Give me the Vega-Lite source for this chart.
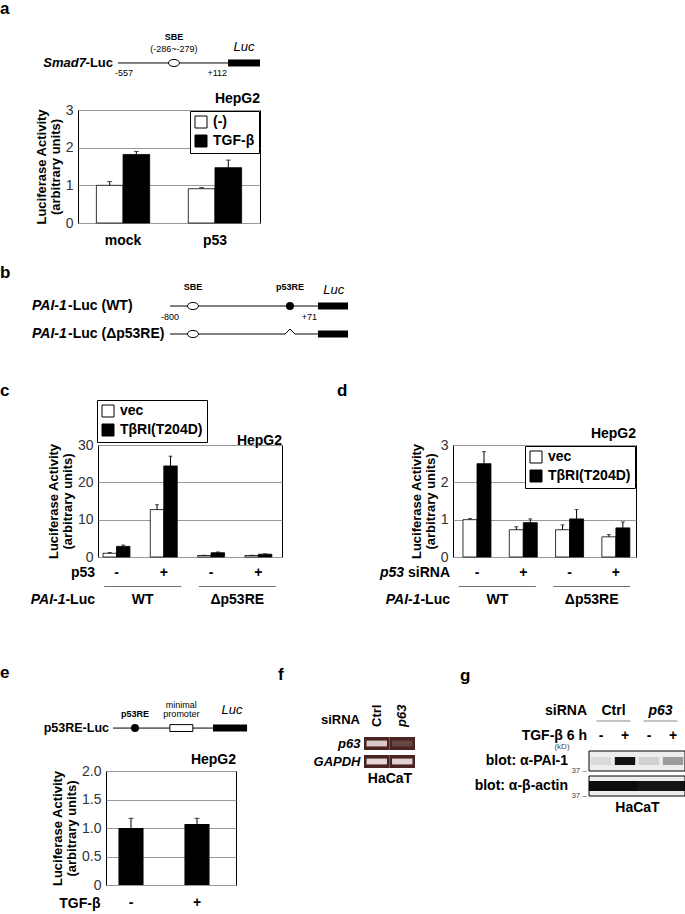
{
"$schema":"https://vega.github.io/schema/vega-lite/v6.json",
"padding":0,
"background":"white",
"spacing":0,
"config":{"font":"Liberation Sans","view":{"stroke":null},"concat":{"spacing":0},"title":{"color":"black"}},
"resolve":{"scale":{"x":"independent","y":"independent","fill":"independent","xOffset":"independent","opacity":"independent"},"legend":{"fill":"independent"}},
"vconcat":[
{
"width":330,"height":91,
"title":{"text":"a","anchor":"start","frame":"group","offset":-31,"baseline":"alphabetic","fontSize":17,"fontWeight":"bold"},
"encoding":{
 "x":{"field":"pos","type":"quantitative","scale":{"domain":[-83.1,149.3],"nice":false,"zero":false},"axis":null},
 "y":{"field":"construct","type":"nominal","scale":{"type":"point","domain":["Smad7-Luc"],"align":0.692},"axis":null}
},
"layer":[
 {"data":{"values":[{"construct":"Smad7-Luc","pos":0,"pos2":77.5}]},"mark":{"type":"rule","color":"black","strokeWidth":1},"encoding":{"x2":{"field":"pos2"}}},
 {"data":{"values":[{"construct":"Smad7-Luc","pos":77.5,"pos2":100}]},"mark":{"type":"rule","color":"black","strokeWidth":7,"strokeCap":"butt"},"encoding":{"x2":{"field":"pos2"}}},
 {"data":{"values":[{"construct":"Smad7-Luc","pos":39.4}]},"mark":{"type":"point","shape":"M-1,0A1,0.65,0,1,1,1,0A1,0.65,0,1,1,-1,0Z","size":121,"filled":true,"fill":"white","stroke":"black","strokeWidth":1,"opacity":1}},
 {"data":{"values":[{"construct":"Smad7-Luc","pos":39.4,"label":"SBE"}]},"mark":{"type":"text","fontSize":9,"fontWeight":"bold","dy":-26},"encoding":{"text":{"field":"label"}}},
 {"data":{"values":[{"construct":"Smad7-Luc","pos":39.4,"label":"(-286~-279)"}]},"mark":{"type":"text","fontSize":9,"dy":-14},"encoding":{"text":{"field":"label"}}},
 {"data":{"values":[{"construct":"Smad7-Luc","pos":88.7,"label":"Luc"}]},"mark":{"type":"text","fontSize":13,"fontStyle":"italic","dy":-16},"encoding":{"text":{"field":"label"}}},
 {"data":{"values":[{"construct":"Smad7-Luc","pos":0,"label":"-557"}]},"mark":{"type":"text","fontSize":9,"align":"left","dx":-3,"dy":10},"encoding":{"text":{"field":"label"}}},
 {"data":{"values":[{"construct":"Smad7-Luc","pos":77.5,"label":"+112"}]},"mark":{"type":"text","fontSize":9,"align":"right","dx":-1,"dy":10},"encoding":{"text":{"field":"label"}}},
 {"data":{"values":[{"construct":"Smad7-Luc","pos":0,"label":"Smad7"}]},"mark":{"type":"text","fontSize":13,"fontWeight":"bold","fontStyle":"italic","align":"right","dx":-32},"encoding":{"text":{"field":"label"}}},
 {"data":{"values":[{"construct":"Smad7-Luc","pos":0,"label":"-Luc"}]},"mark":{"type":"text","fontSize":13,"fontWeight":"bold","align":"right","dx":-5},"encoding":{"text":{"field":"label"}}}
]
},
{
"hconcat":[
 {"width":78,"height":113,"data":{"values":[]},"mark":"point"},
 {
 "width":182,"height":113,
 "view":{"stroke":"black","strokeWidth":1},
 "title":{"text":"HepG2","anchor":"end","frame":"group","fontSize":14,"fontWeight":"bold","offset":-3},
 "data":{"values":[
  {"group":"mock","treat":"(-)","value":1.0,"upper":1.1},
  {"group":"mock","treat":"TGF-β","value":1.82,"upper":1.9},
  {"group":"p53","treat":"(-)","value":0.91,"upper":0.94},
  {"group":"p53","treat":"TGF-β","value":1.47,"upper":1.67}]},
 "encoding":{
  "x":{"field":"group","type":"nominal","scale":{"type":"band","domain":["mock","p53"],"paddingInner":0.42,"paddingOuter":0.2},"axis":{"title":null,"labelAngle":0,"labelFontSize":14,"labelFontWeight":"bold","labelColor":"black","ticks":false,"domain":false,"labelPadding":10}},
  "xOffset":{"field":"treat","type":"nominal","scale":{"type":"band","domain":["(-)","TGF-β"],"paddingInner":0,"paddingOuter":0}},
  "y":{"field":"value","type":"quantitative","scale":{"domain":[0,3],"nice":false},"axis":{"values":[0,1,2,3],"grid":true,"gridColor":"#999999","gridWidth":1,"ticks":false,"domain":false,"labelFontSize":14,"labelColor":"#333333","labelPadding":5,"title":["Luciferase Activity","(arbitrary units)"],"titleFontSize":13,"titleFontWeight":"bold","titleColor":"black","titlePadding":3,"titleLineHeight":14}}
 },
 "layer":[
  {"mark":{"type":"bar","stroke":"black","strokeWidth":0.8},"encoding":{"fill":{"field":"treat","type":"nominal","scale":{"domain":["(-)","TGF-β"],"range":["white","black"]},"legend":{"title":null,"orient":"top-right","offset":1,"symbolType":"square","symbolSize":144,"symbolStrokeColor":"black","symbolStrokeWidth":1,"labelFontSize":14,"labelFontWeight":"bold","labelColor":"black","strokeColor":"black","fillColor":"white","padding":4,"rowPadding":3,"labelOffset":5}}}},
  {"mark":{"type":"rule","color":"black","strokeWidth":1},"encoding":{"y2":{"field":"upper"}}},
  {"mark":{"type":"tick","orient":"horizontal","size":5,"thickness":1,"color":"black"},"encoding":{"y":{"field":"upper","type":"quantitative"}}}
 ]
 }
],
"spacing":0,"bounds":"flush",
"resolve":{"scale":{"x":"independent","y":"independent","fill":"independent","xOffset":"independent"},"legend":{"fill":"independent"}}
},
{
"width":685,"height":134,
"title":{"text":"b","anchor":"start","frame":"group","offset":-47,"baseline":"alphabetic","fontSize":17,"fontWeight":"bold"},
"encoding":{
 "x":{"field":"pos","type":"quantitative","scale":{"domain":[-95.5,289.3],"nice":false,"zero":false},"axis":null},
 "y":{"field":"construct","type":"nominal","scale":{"type":"point","domain":["WT","Δp53RE"],"range":[58,86],"padding":0},"axis":null}
},
"layer":[
 {"data":{"values":[{"construct":"WT","pos":0,"pos2":83.1},{"construct":"Δp53RE","pos":0,"pos2":64.6},{"construct":"Δp53RE","pos":70.2,"pos2":83.1}]},"mark":{"type":"rule","color":"black","strokeWidth":1},"encoding":{"x2":{"field":"pos2"}}},
 {"data":{"values":[{"construct":"WT","pos":83.1,"pos2":100},{"construct":"Δp53RE","pos":83.1,"pos2":100}]},"mark":{"type":"rule","color":"black","strokeWidth":7,"strokeCap":"butt"},"encoding":{"x2":{"field":"pos2"}}},
 {"data":{"values":[{"construct":"WT","pos":12.9},{"construct":"Δp53RE","pos":12.9}]},"mark":{"type":"point","shape":"M-1,0A1,0.65,0,1,1,1,0A1,0.65,0,1,1,-1,0Z","size":121,"filled":true,"fill":"white","stroke":"black","strokeWidth":1,"opacity":1}},
 {"data":{"values":[{"construct":"WT","pos":67.4}]},"mark":{"type":"point","shape":"circle","size":64,"filled":true,"color":"black","opacity":1}},
 {"data":{"values":[{"construct":"Δp53RE","pos":67.4}]},"mark":{"type":"point","shape":"M-1,0L0,-1L1,0","size":100,"filled":false,"color":"black","strokeWidth":1,"opacity":1}},
 {"data":{"values":[{"construct":"WT","pos":12.9,"label":"SBE"},{"construct":"WT","pos":67.4,"label":"p53RE"}]},"mark":{"type":"text","fontSize":9,"fontWeight":"bold","dy":-19},"encoding":{"text":{"field":"label"}}},
 {"data":{"values":[{"construct":"WT","pos":92,"label":"Luc"}]},"mark":{"type":"text","fontSize":13,"fontStyle":"italic","dy":-16},"encoding":{"text":{"field":"label"}}},
 {"data":{"values":[{"construct":"WT","pos":0,"label":"-800"}]},"mark":{"type":"text","fontSize":9,"dy":11},"encoding":{"text":{"field":"label"}}},
 {"data":{"values":[{"construct":"WT","pos":83.1,"label":"+71"}]},"mark":{"type":"text","fontSize":9,"align":"right","dx":-1,"dy":11},"encoding":{"text":{"field":"label"}}},
 {"data":{"values":[{"construct":"WT","pos":-77.5,"label":"PAI-1"},{"construct":"Δp53RE","pos":-77.5,"label":"PAI-1"}]},"mark":{"type":"text","fontSize":14,"fontWeight":"bold","fontStyle":"italic","align":"left"},"encoding":{"text":{"field":"label"}}},
 {"data":{"values":[{"construct":"WT","pos":-77.5,"label":"-Luc (WT)"},{"construct":"Δp53RE","pos":-77.5,"label":"-Luc (Δp53RE)"}]},"mark":{"type":"text","fontSize":14,"fontWeight":"bold","align":"left","dx":36},"encoding":{"text":{"field":"label"}}}
]
},
{
"hconcat":[
 {"width":98,"height":112,"title":{"text":"c","anchor":"start","frame":"group","offset":32,"baseline":"alphabetic","fontSize":17,"fontWeight":"bold"},"data":{"values":[]},"mark":"point"},
 {
 "width":184,"height":112,
 "view":{"stroke":"black","strokeWidth":1},
 "title":{"text":"HepG2","anchor":"end","frame":"group","fontSize":14,"fontWeight":"bold","offset":-48.5},
 "data":{"values":[
  {"cond":"WT-","series":"vec","value":1.0,"upper":1.2},
  {"cond":"WT-","series":"TβRI(T204D)","value":2.85,"upper":3.2},
  {"cond":"WT+","series":"vec","value":12.7,"upper":14.0},
  {"cond":"WT+","series":"TβRI(T204D)","value":24.4,"upper":27.0},
  {"cond":"D-","series":"vec","value":0.4,"upper":0.45},
  {"cond":"D-","series":"TβRI(T204D)","value":1.15,"upper":1.35},
  {"cond":"D+","series":"vec","value":0.4,"upper":0.45},
  {"cond":"D+","series":"TβRI(T204D)","value":0.75,"upper":0.85}]},
 "encoding":{
  "x":{"field":"cond","type":"nominal","scale":{"type":"band","domain":["WT-","WT+","D-","D+"],"paddingInner":0.43,"paddingOuter":0.16,"align":0.33},"axis":null},
  "xOffset":{"field":"series","type":"nominal","scale":{"type":"band","domain":["vec","TβRI(T204D)"],"paddingInner":0,"paddingOuter":0}},
  "y":{"field":"value","type":"quantitative","scale":{"domain":[0,30],"nice":false},"axis":{"values":[0,10,20,30],"grid":true,"gridColor":"#999999","gridWidth":1,"ticks":false,"domain":false,"labelFontSize":14,"labelColor":"#333333","labelPadding":5,"title":["Luciferase Activity","(arbitrary units)"],"titleFontSize":13,"titleFontWeight":"bold","titleColor":"black","titlePadding":3,"titleLineHeight":14}}
 },
 "layer":[
  {"mark":{"type":"bar","stroke":"black","strokeWidth":0.8},"encoding":{"fill":{"field":"series","type":"nominal","scale":{"domain":["vec","TβRI(T204D)"],"range":["white","black"]},"legend":{"title":null,"orient":"none","legendX":-1,"legendY":-45,"symbolType":"square","symbolSize":144,"symbolStrokeColor":"black","symbolStrokeWidth":1,"labelFontSize":14,"labelFontWeight":"bold","labelColor":"black","strokeColor":"black","fillColor":"white","padding":4,"rowPadding":3,"labelOffset":5}}}},
  {"mark":{"type":"rule","color":"black","strokeWidth":1},"encoding":{"y2":{"field":"upper"}}},
  {"mark":{"type":"tick","orient":"horizontal","size":4,"thickness":1,"color":"black"},"encoding":{"y":{"field":"upper","type":"quantitative"}}}
 ]
 },
 {"width":171,"height":112,"title":{"text":"d","anchor":"start","frame":"group","offset":32,"dx":55,"baseline":"alphabetic","fontSize":17,"fontWeight":"bold"},"data":{"values":[]},"mark":"point"},
 {
 "width":183,"height":112,
 "view":{"stroke":"black","strokeWidth":1},
 "title":{"text":"HepG2","anchor":"end","frame":"group","fontSize":14,"fontWeight":"bold","offset":-3},
 "data":{"values":[
  {"cond":"WT-","series":"vec","value":1.0,"upper":1.03},
  {"cond":"WT-","series":"TβRI(T204D)","value":2.5,"upper":2.82},
  {"cond":"WT+","series":"vec","value":0.73,"upper":0.81},
  {"cond":"WT+","series":"TβRI(T204D)","value":0.92,"upper":1.02},
  {"cond":"D-","series":"vec","value":0.73,"upper":0.86},
  {"cond":"D-","series":"TβRI(T204D)","value":1.02,"upper":1.27},
  {"cond":"D+","series":"vec","value":0.54,"upper":0.6},
  {"cond":"D+","series":"TβRI(T204D)","value":0.78,"upper":0.94}]},
 "encoding":{
  "x":{"field":"cond","type":"nominal","scale":{"type":"band","domain":["WT-","WT+","D-","D+"],"paddingInner":0.395,"paddingOuter":0.174,"align":0.62},"axis":null},
  "xOffset":{"field":"series","type":"nominal","scale":{"type":"band","domain":["vec","TβRI(T204D)"],"paddingInner":0,"paddingOuter":0}},
  "y":{"field":"value","type":"quantitative","scale":{"domain":[0,3],"nice":false},"axis":{"values":[0,1,2,3],"grid":true,"gridColor":"#999999","gridWidth":1,"ticks":false,"domain":false,"labelFontSize":14,"labelColor":"#333333","labelPadding":5,"title":["Luciferase Activity","(arbitrary units)"],"titleFontSize":13,"titleFontWeight":"bold","titleColor":"black","titlePadding":3,"titleLineHeight":14}}
 },
 "layer":[
  {"mark":{"type":"bar","stroke":"black","strokeWidth":0.8},"encoding":{"fill":{"field":"series","type":"nominal","scale":{"domain":["vec","TβRI(T204D)"],"range":["white","black"]},"legend":{"title":null,"orient":"top-right","offset":1,"symbolType":"square","symbolSize":144,"symbolStrokeColor":"black","symbolStrokeWidth":1,"labelFontSize":14,"labelFontWeight":"bold","labelColor":"black","strokeColor":"black","fillColor":"white","padding":4,"rowPadding":3,"labelOffset":5}}}},
  {"mark":{"type":"rule","color":"black","strokeWidth":1},"encoding":{"y2":{"field":"upper"}}},
  {"mark":{"type":"tick","orient":"horizontal","size":4,"thickness":1,"color":"black"},"encoding":{"y":{"field":"upper","type":"quantitative"}}}
 ]
 }
],
"spacing":0,"bounds":"flush",
"resolve":{"scale":{"x":"independent","y":"independent","fill":"independent","xOffset":"independent"},"legend":{"fill":"independent"}}
},
{
"hconcat":[
 {"width":98,"height":51,"data":{"values":[]},"mark":"point"},
 {
 "width":184,"height":51,
 "encoding":{"y":{"field":"row","type":"nominal","scale":{"type":"point","domain":["sign","line","block"],"range":[8,35],"padding":0},"axis":null}},
 "resolve":{"scale":{"x":"independent"}},
 "layer":[
  {"data":{"values":[{"cond":"WT-","row":"sign","label":"-"},{"cond":"WT+","row":"sign","label":"+"},{"cond":"D-","row":"sign","label":"-"},{"cond":"D+","row":"sign","label":"+"}]},"mark":{"type":"text","fontSize":14,"fontWeight":"bold"},"encoding":{"x":{"field":"cond","type":"nominal","scale":{"type":"band","domain":["WT-","WT+","D-","D+"],"paddingInner":0.43,"paddingOuter":0.16,"align":0.33},"axis":null},"text":{"field":"label"}}},
  {"data":{"values":[{"block":"WT","row":"block","label":"WT"},{"block":"Δp53RE","row":"block","label":"Δp53RE"}]},"mark":{"type":"text","fontSize":14,"fontWeight":"bold"},"encoding":{"x":{"field":"block","type":"nominal","scale":{"type":"band","domain":["WT","Δp53RE"],"paddingInner":0.18,"paddingOuter":0.063},"axis":null},"text":{"field":"label"}}},
  {"data":{"values":[{"block":"WT","row":"line"},{"block":"Δp53RE","row":"line"}]},"mark":{"type":"tick","orient":"horizontal","size":77,"thickness":1,"color":"#333333"},"encoding":{"x":{"field":"block","type":"nominal","scale":{"type":"band","domain":["WT","Δp53RE"],"paddingInner":0.18,"paddingOuter":0.063},"axis":null}}},
  {"data":{"values":[{"frame":"all","row":"sign","label":"p53"}]},"mark":{"type":"text","fontSize":14,"fontWeight":"bold","align":"right","dx":-3},"encoding":{"x":{"field":"frame","type":"nominal","bandPosition":0,"scale":{"type":"band","domain":["all"],"paddingInner":0,"paddingOuter":0},"axis":null},"text":{"field":"label"}}},
  {"data":{"values":[{"frame":"all","row":"block","label":"PAI-1"}]},"mark":{"type":"text","fontSize":14,"fontWeight":"bold","fontStyle":"italic","align":"right","dx":-32.5},"encoding":{"x":{"field":"frame","type":"nominal","bandPosition":0,"scale":{"type":"band","domain":["all"],"paddingInner":0,"paddingOuter":0},"axis":null},"text":{"field":"label"}}},
  {"data":{"values":[{"frame":"all","row":"block","label":"-Luc"}]},"mark":{"type":"text","fontSize":14,"fontWeight":"bold","align":"right","dx":-3},"encoding":{"x":{"field":"frame","type":"nominal","bandPosition":0,"scale":{"type":"band","domain":["all"],"paddingInner":0,"paddingOuter":0},"axis":null},"text":{"field":"label"}}}
 ]
 },
 {"width":171,"height":51,"data":{"values":[]},"mark":"point"},
 {
 "width":183,"height":51,
 "encoding":{"y":{"field":"row","type":"nominal","scale":{"type":"point","domain":["sign","line","block"],"range":[8,35],"padding":0},"axis":null}},
 "resolve":{"scale":{"x":"independent"}},
 "layer":[
  {"data":{"values":[{"cond":"WT-","row":"sign","label":"-"},{"cond":"WT+","row":"sign","label":"+"},{"cond":"D-","row":"sign","label":"-"},{"cond":"D+","row":"sign","label":"+"}]},"mark":{"type":"text","fontSize":14,"fontWeight":"bold"},"encoding":{"x":{"field":"cond","type":"nominal","scale":{"type":"band","domain":["WT-","WT+","D-","D+"],"paddingInner":0.395,"paddingOuter":0.174,"align":0.62},"axis":null},"text":{"field":"label"}}},
  {"data":{"values":[{"block":"WT","row":"block","label":"WT"},{"block":"Δp53RE","row":"block","label":"Δp53RE"}]},"mark":{"type":"text","fontSize":14,"fontWeight":"bold"},"encoding":{"x":{"field":"block","type":"nominal","scale":{"type":"band","domain":["WT","Δp53RE"],"paddingInner":0.18,"paddingOuter":0.06},"axis":null},"text":{"field":"label"}}},
  {"data":{"values":[{"block":"WT","row":"line"},{"block":"Δp53RE","row":"line"}]},"mark":{"type":"tick","orient":"horizontal","size":77,"thickness":1,"color":"#333333"},"encoding":{"x":{"field":"block","type":"nominal","scale":{"type":"band","domain":["WT","Δp53RE"],"paddingInner":0.18,"paddingOuter":0.06},"axis":null}}},
  {"data":{"values":[{"frame":"all","row":"sign","label":"p53"}]},"mark":{"type":"text","fontSize":14,"fontWeight":"bold","fontStyle":"italic","align":"right","dx":-49},"encoding":{"x":{"field":"frame","type":"nominal","bandPosition":0,"scale":{"type":"band","domain":["all"],"paddingInner":0,"paddingOuter":0},"axis":null},"text":{"field":"label"}}},
  {"data":{"values":[{"frame":"all","row":"sign","label":"siRNA"}]},"mark":{"type":"text","fontSize":14,"fontWeight":"bold","align":"right","dx":-3},"encoding":{"x":{"field":"frame","type":"nominal","bandPosition":0,"scale":{"type":"band","domain":["all"],"paddingInner":0,"paddingOuter":0},"axis":null},"text":{"field":"label"}}},
  {"data":{"values":[{"frame":"all","row":"block","label":"PAI-1"}]},"mark":{"type":"text","fontSize":14,"fontWeight":"bold","fontStyle":"italic","align":"right","dx":-32.5},"encoding":{"x":{"field":"frame","type":"nominal","bandPosition":0,"scale":{"type":"band","domain":["all"],"paddingInner":0,"paddingOuter":0},"axis":null},"text":{"field":"label"}}},
  {"data":{"values":[{"frame":"all","row":"block","label":"-Luc"}]},"mark":{"type":"text","fontSize":14,"fontWeight":"bold","align":"right","dx":-3},"encoding":{"x":{"field":"frame","type":"nominal","bandPosition":0,"scale":{"type":"band","domain":["all"],"paddingInner":0,"paddingOuter":0},"axis":null},"text":{"field":"label"}}}
 ]
 }
],
"spacing":0,"bounds":"flush",
"resolve":{"scale":{"x":"independent","y":"independent"}}
},
{
"hconcat":[
 {
 "vconcat":[
  {
  "width":250,"height":136,
  "title":{"text":"e","anchor":"start","frame":"group","offset":-79,"baseline":"alphabetic","fontSize":17,"fontWeight":"bold"},
  "encoding":{
   "x":{"field":"pos","type":"quantitative","scale":{"domain":[-84.3,102.2],"nice":false,"zero":false},"axis":null},
   "y":{"field":"construct","type":"nominal","scale":{"type":"point","domain":["p53RE-Luc"],"align":0.824},"axis":null}
  },
  "layer":[
   {"data":{"values":[{"construct":"p53RE-Luc","pos":0,"pos2":74.6}]},"mark":{"type":"rule","color":"black","strokeWidth":1},"encoding":{"x2":{"field":"pos2"}}},
   {"data":{"values":[{"construct":"p53RE-Luc","pos":74.6,"pos2":100}]},"mark":{"type":"rule","color":"black","strokeWidth":7,"strokeCap":"butt"},"encoding":{"x2":{"field":"pos2"}}},
   {"data":{"values":[{"construct":"p53RE-Luc","pos":16.4}]},"mark":{"type":"point","shape":"circle","size":64,"filled":true,"color":"black","opacity":1}},
   {"data":{"values":[{"construct":"p53RE-Luc","pos":51}]},"mark":{"type":"point","shape":"M-1,-0.3L1,-0.3L1,0.3L-1,0.3Z","size":529,"filled":true,"fill":"white","stroke":"black","strokeWidth":1,"opacity":1}},
   {"data":{"values":[{"construct":"p53RE-Luc","pos":16.4,"label":"p53RE"}]},"mark":{"type":"text","fontSize":9,"fontWeight":"bold","dy":-14},"encoding":{"text":{"field":"label"}}},
   {"data":{"values":[{"construct":"p53RE-Luc","pos":51,"label":"minimal"}]},"mark":{"type":"text","fontSize":9,"dy":-23},"encoding":{"text":{"field":"label"}}},
   {"data":{"values":[{"construct":"p53RE-Luc","pos":51,"label":"promoter"}]},"mark":{"type":"text","fontSize":9,"dy":-14},"encoding":{"text":{"field":"label"}}},
   {"data":{"values":[{"construct":"p53RE-Luc","pos":88.8,"label":"Luc"}]},"mark":{"type":"text","fontSize":13,"fontStyle":"italic","dy":-18},"encoding":{"text":{"field":"label"}}},
   {"data":{"values":[{"construct":"p53RE-Luc","pos":0,"label":"p53RE-Luc"}]},"mark":{"type":"text","fontSize":12.5,"fontWeight":"bold","align":"right","dx":-4},"encoding":{"text":{"field":"label"}}}
  ]
  },
  {
  "hconcat":[
   {"width":106,"height":114,"data":{"values":[]},"mark":"point"},
   {
   "width":130,"height":114,
   "view":{"stroke":"black","strokeWidth":1},
   "title":{"text":"HepG2","anchor":"end","frame":"group","fontSize":14,"fontWeight":"bold","offset":-3},
   "data":{"values":[{"tgf":"-","value":1.0,"upper":1.17},{"tgf":"+","value":1.07,"upper":1.17}]},
   "encoding":{
    "x":{"field":"tgf","type":"nominal","scale":{"type":"band","domain":["-","+"],"paddingInner":0.62,"paddingOuter":0.295,"align":0.32},"axis":null},
    "y":{"field":"value","type":"quantitative","scale":{"domain":[0,2],"nice":false},"axis":{"values":[0,0.5,1,1.5,2],"labelExpr":"datum.value == 0 ? '0' : format(datum.value, '.1f')","grid":true,"gridColor":"#999999","gridWidth":1,"ticks":false,"domain":false,"labelFontSize":14,"labelColor":"#333333","labelPadding":5,"title":["Luciferase Activity","(arbitrary units)"],"titleFontSize":13,"titleFontWeight":"bold","titleColor":"black","titlePadding":3,"titleLineHeight":14}}
   },
   "layer":[
    {"mark":{"type":"bar","color":"black"}},
    {"mark":{"type":"rule","color":"black","strokeWidth":1},"encoding":{"y2":{"field":"upper"}}},
    {"mark":{"type":"tick","orient":"horizontal","size":5,"thickness":1,"color":"black"},"encoding":{"y":{"field":"upper","type":"quantitative"}}}
   ]
   }
  ],
  "spacing":0,"bounds":"flush",
  "resolve":{"scale":{"x":"independent","y":"independent"}}
  },
  {
  "hconcat":[
   {"width":106,"height":20,"data":{"values":[]},"mark":"point"},
   {
   "width":130,"height":20,
   "data":{"values":[{"tgf":"-","row":"TGF-β","label":"-"},{"tgf":"+","row":"TGF-β","label":"+"}]},
   "mark":{"type":"text","fontSize":14,"fontWeight":"bold"},
   "encoding":{
    "x":{"field":"tgf","type":"nominal","scale":{"type":"band","domain":["-","+"],"paddingInner":0.62,"paddingOuter":0.295,"align":0.32},"axis":null},
    "y":{"field":"row","type":"nominal","scale":{"type":"point","domain":["TGF-β"],"align":0.5},"axis":{"title":null,"ticks":false,"domain":false,"labelFontSize":14,"labelFontWeight":"bold","labelColor":"black","labelPadding":6}},
    "text":{"field":"label"}
   }
   }
  ],
  "spacing":0,"bounds":"flush",
  "resolve":{"scale":{"x":"independent","y":"independent"}}
  }
 ],
 "spacing":0,
 "resolve":{"scale":{"x":"independent","y":"independent"}}
 },
 {"width":27,"height":1,"data":{"values":[]},"mark":"point"},
 {
 "width":51,"height":152,
 "title":{"text":"f","anchor":"start","frame":"group","offset":-81,"dx":-86,"baseline":"alphabetic","fontSize":17,"fontWeight":"bold"},
 "encoding":{
  "x":{"field":"lane","type":"nominal","scale":{"type":"band","domain":["Ctrl","p63"],"paddingInner":0,"paddingOuter":0},"axis":{"orient":"bottom","title":"HaCaT","labels":false,"ticks":false,"domain":false,"titleFontSize":14,"titleFontWeight":"bold","titleColor":"black","titlePadding":3}},
  "y":{"field":"row","type":"nominal","scale":{"type":"band","domain":["siRNA","p63","GAPDH"],"range":[103,152],"paddingInner":0.278,"paddingOuter":0},"axis":{"title":null,"ticks":false,"domain":false,"labelFontSize":13,"labelFontWeight":"bold","labelColor":"black","labelPadding":4,"labelExpr":"datum.value === 'siRNA' ? '' : datum.label","labelFontStyle":"italic"}}
 },
 "layer":[
  {"data":{"values":[{"lane":"Ctrl","row":"p63"},{"lane":"p63","row":"p63"},{"lane":"Ctrl","row":"GAPDH"},{"lane":"p63","row":"GAPDH"}]},"mark":{"type":"rect","color":"#4a2422"}},
  {"data":{"values":[{"lane":"Ctrl","row":"p63","intensity":0.85},{"lane":"p63","row":"p63","intensity":0.18},{"lane":"Ctrl","row":"GAPDH","intensity":0.92},{"lane":"p63","row":"GAPDH","intensity":0.9}]},"mark":{"type":"rect","color":"#f3e6e6","width":{"band":0.8},"height":{"band":0.45}},"encoding":{"opacity":{"field":"intensity","type":"quantitative","scale":null,"legend":null}}},
  {"data":{"values":[{"lane":"Ctrl","row":"siRNA","label":"Ctrl"}]},"mark":{"type":"text","angle":270,"align":"left","baseline":"middle","dx":5,"fontSize":13,"fontWeight":"bold"},"encoding":{"y":{"field":"row","type":"nominal","bandPosition":1},"text":{"field":"label"}}},
  {"data":{"values":[{"lane":"p63","row":"siRNA","label":"p63"}]},"mark":{"type":"text","angle":270,"align":"left","baseline":"middle","dx":5,"fontSize":13,"fontWeight":"bold","fontStyle":"italic"},"encoding":{"y":{"field":"row","type":"nominal","bandPosition":1},"text":{"field":"label"}}},
  {"data":{"values":[{"lane":"Ctrl","row":"siRNA","label":"siRNA"}]},"mark":{"type":"text","align":"right","baseline":"middle","dx":-4,"fontSize":13,"fontWeight":"bold"},"encoding":{"x":{"field":"lane","type":"nominal","bandPosition":0},"y":{"field":"row","type":"nominal","bandPosition":0.1},"text":{"field":"label"}}}
 ]
 },
 {"width":45,"height":1,"data":{"values":[]},"mark":"point"},
 {
 "width":96,"height":180,
 "title":{"text":"g","anchor":"start","frame":"group","offset":-82,"dx":-129,"baseline":"alphabetic","fontSize":17,"fontWeight":"bold"},
 "encoding":{"y":{"field":"row","type":"nominal","scale":{"type":"band","domain":["siRNA","TGF","PAI-1","actin"],"range":[85,180],"paddingInner":0.2,"paddingOuter":0},"axis":null}},
 "resolve":{"scale":{"x":"independent"}},
 "layer":[
  {"data":{"values":[{"frame":"all","row":"PAI-1"},{"frame":"all","row":"actin"}]},"mark":{"type":"rect","fill":"#ededed","stroke":"black","strokeWidth":1},"encoding":{"x":{"field":"frame","type":"nominal","scale":{"type":"band","domain":["all"],"paddingInner":0,"paddingOuter":0},"axis":null}}},
  {"data":{"values":[
    {"lane":"Ctrl -","row":"PAI-1","intensity":0.08},{"lane":"Ctrl +","row":"PAI-1","intensity":0.92},{"lane":"p63 -","row":"PAI-1","intensity":0.12},{"lane":"p63 +","row":"PAI-1","intensity":0.35}]},
   "mark":{"type":"rect","color":"black","width":{"band":0.85},"height":{"band":0.4}},
   "encoding":{"x":{"field":"lane","type":"nominal","scale":{"type":"band","domain":["Ctrl -","Ctrl +","p63 -","p63 +"],"paddingInner":0,"paddingOuter":0},"axis":{"orient":"bottom","title":"HaCaT","labels":false,"ticks":false,"domain":false,"titleFontSize":14,"titleFontWeight":"bold","titleColor":"black","titlePadding":4}},"opacity":{"field":"intensity","type":"quantitative","scale":null,"legend":null}}},
  {"data":{"values":[
    {"lane":"Ctrl -","row":"actin","intensity":0.95},{"lane":"Ctrl +","row":"actin","intensity":0.95},{"lane":"p63 -","row":"actin","intensity":0.92},{"lane":"p63 +","row":"actin","intensity":0.92}]},
   "mark":{"type":"rect","color":"black","width":{"band":1},"height":{"band":0.5}},
   "encoding":{"x":{"field":"lane","type":"nominal","scale":{"type":"band","domain":["Ctrl -","Ctrl +","p63 -","p63 +"],"paddingInner":0,"paddingOuter":0},"axis":null},"opacity":{"field":"intensity","type":"quantitative","scale":null,"legend":null}}},
  {"data":{"values":[{"lane":"Ctrl -","row":"TGF","label":"-"},{"lane":"Ctrl +","row":"TGF","label":"+"},{"lane":"p63 -","row":"TGF","label":"-"},{"lane":"p63 +","row":"TGF","label":"+"}]},"mark":{"type":"text","fontSize":14,"fontWeight":"bold"},"encoding":{"x":{"field":"lane","type":"nominal","scale":{"type":"band","domain":["Ctrl -","Ctrl +","p63 -","p63 +"],"paddingInner":0,"paddingOuter":0},"axis":null},"text":{"field":"label"}}},
  {"data":{"values":[{"lane":"Ctrl -","row":"PAI-1","label":"37 –"},{"lane":"Ctrl -","row":"actin","label":"37 –"}]},"mark":{"type":"text","fontSize":8,"color":"#444444","align":"right","dx":-2},"encoding":{"x":{"field":"lane","type":"nominal","bandPosition":0,"scale":{"type":"band","domain":["Ctrl -","Ctrl +","p63 -","p63 +"],"paddingInner":0,"paddingOuter":0},"axis":null},"y":{"field":"row","type":"nominal","bandPosition":1},"text":{"field":"label"}}},
  {"data":{"values":[{"lane":"Ctrl -","row":"TGF","label":"(kD)"}]},"mark":{"type":"text","fontSize":8,"color":"#444444","dx":-27,"dy":1},"encoding":{"x":{"field":"lane","type":"nominal","bandPosition":0,"scale":{"type":"band","domain":["Ctrl -","Ctrl +","p63 -","p63 +"],"paddingInner":0,"paddingOuter":0},"axis":null},"y":{"field":"row","type":"nominal","bandPosition":1},"text":{"field":"label"}}},
  {"data":{"values":[{"block":"Ctrl","row":"siRNA","label":"Ctrl"}]},"mark":{"type":"text","fontSize":14,"fontWeight":"bold"},"encoding":{"x":{"field":"block","type":"nominal","scale":{"type":"band","domain":["Ctrl","p63"],"paddingInner":0.3,"paddingOuter":0.17},"axis":null},"text":{"field":"label"}}},
  {"data":{"values":[{"block":"p63","row":"siRNA","label":"p63"}]},"mark":{"type":"text","fontSize":14,"fontWeight":"bold","fontStyle":"italic"},"encoding":{"x":{"field":"block","type":"nominal","scale":{"type":"band","domain":["Ctrl","p63"],"paddingInner":0.3,"paddingOuter":0.17},"axis":null},"text":{"field":"label"}}},
  {"data":{"values":[{"block":"Ctrl","row":"siRNA"},{"block":"p63","row":"siRNA"}]},"mark":{"type":"tick","orient":"horizontal","size":34,"thickness":1,"color":"#555555"},"encoding":{"x":{"field":"block","type":"nominal","scale":{"type":"band","domain":["Ctrl","p63"],"paddingInner":0.3,"paddingOuter":0.17},"axis":null},"y":{"field":"row","type":"nominal","bandPosition":1}}},
  {"data":{"values":[{"frame":"all","row":"siRNA","label":"siRNA"},{"frame":"all","row":"TGF","label":"TGF-β 6 h"}]},"mark":{"type":"text","fontSize":14,"fontWeight":"bold","align":"right","dx":-2},"encoding":{"x":{"field":"frame","type":"nominal","bandPosition":0,"scale":{"type":"band","domain":["all"],"paddingInner":0,"paddingOuter":0},"axis":null},"text":{"field":"label"}}},
  {"data":{"values":[{"frame":"all","row":"PAI-1","label":"blot: α-PAI-1"},{"frame":"all","row":"actin","label":"blot: α-β-actin"}]},"mark":{"type":"text","fontSize":14,"fontWeight":"bold","align":"right","dx":-21},"encoding":{"x":{"field":"frame","type":"nominal","bandPosition":0,"scale":{"type":"band","domain":["all"],"paddingInner":0,"paddingOuter":0},"axis":null},"text":{"field":"label"}}}
 ]
 }
],
"spacing":0,
"resolve":{"scale":{"x":"independent","y":"independent","opacity":"independent"}}
}
]
}
